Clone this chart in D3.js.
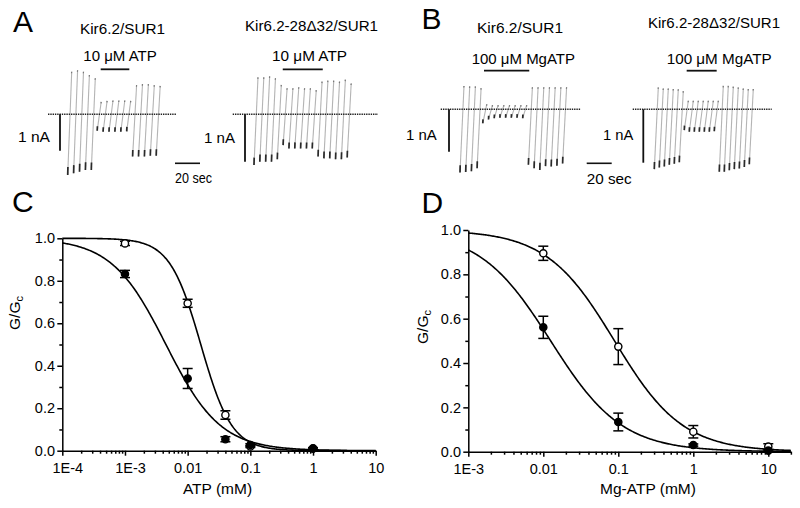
<!DOCTYPE html>
<html><head><meta charset="utf-8">
<script src="https://cdn.jsdelivr.net/npm/d3@7"></script>
<style>
body{margin:0;background:#fff;}
text{font-family:"Liberation Sans",Arial,sans-serif;fill:#000;font-weight:normal;}
</style></head>
<body>
<script>
// ---------------- DATA ----------------
// Panel A: 10 uM ATP, peak ramp currents per sweep (nA)
const aWtTop = [1.17,1.21,1.17,1.08,0.99, 0.34,0.37,0.38,0.38,0.38,0.37, 0.80,0.83,0.83,0.80,0.78];
const aWtBot = [-1.67,-1.62,-1.58,-1.53,-1.53, -0.45,-0.48,-0.48,-0.48,-0.48,-0.47, -1.16,-1.16,-1.16,-1.14,-1.14];
const aMutTop = [0.78,0.78,0.80,0.76,0.62, 0.55,0.55,0.57,0.55,0.55,0.51, 0.69,0.71,0.71,0.69,0.73,0.65];
const aMutBot = [-1.07,-1.00,-1.00,-1.00,-0.95, -0.65,-0.72,-0.72,-0.72,-0.72,-0.72, -0.89,-0.93,-0.93,-0.95,-0.95,-0.91];
// Panel B: 100 uM MgATP
const bWtTop = [0.55,0.54,0.54,0.50, 0.12,0.10,0.10,0.10,0.10,0.10,0.10,0.10, 0.52,0.52,0.52,0.52,0.52,0.52,0.52];
const bWtBot = [-1.49,-1.48,-1.46,-1.39, -0.33,-0.24,-0.21,-0.20,-0.20,-0.20,-0.20,-0.21, -1.31,-1.39,-1.43,-1.34,-1.35,-1.33,-1.28];
const bMutTop = [0.41,0.39,0.39,0.38,0.375,0.34, 0.16,0.16,0.16,0.16,0.16,0.16,0.16, 0.44,0.44,0.425,0.41,0.39,0.38,0.38];
const bMutBot = [-1.12,-1.09,-1.07,-1.04,-1.02,-0.99, -0.39,-0.42,-0.42,-0.42,-0.42,-0.42,-0.41, -1.17,-1.17,-1.14,-1.12,-1.11,-1.08,-1.03];
// sweep intervals (s) and drug application windows (s from first sweep)
const sweepInterval = [4.72, 4.66, 4.56, 4.0];
const drugOn = [26.4, 23.0, 19.2, 25.9];
const drugOff = [49.3, 55.0, 55.4, 49.9];
const rampDuration = 3.2; // s

// Panel C: ATP (mM)
const cConc = [0.001, 0.01, 0.04, 0.1, 1];
const cWtMean = [0.832, 0.34, 0.054, 0.027, 0.011];
const cWtErr  = [0.017, 0.047, 0.012, 0.006, 0.004];
const cMutMean = [0.976, 0.694, 0.168, 0.02, 0.01];
const cMutErr  = [0.010, 0.019, 0.020, 0.005, 0.004];
const cWtFit = [0.0045, 1.0];   // IC50 (mM), Hill
const cMutFit = [0.0162, 1.755];
const cXTicks = [1e-4, 1e-3, 0.01, 0.1, 1, 10];
const cXLabels = ["1E-4", "1E-3", "0.01", "0.1", "1", "10"];

// Panel D: Mg-ATP (mM)
const dConc = [0.01, 0.1, 1, 10];
const dWtMean = [0.561, 0.134, 0.03, 0.005];
const dWtErr  = [0.05, 0.04, 0.005, 0.003];
const dMutMean = [0.895, 0.474, 0.09, 0.023];
const dMutErr  = [0.032, 0.081, 0.028, 0.013];
const dWtFit = [0.01253, 0.915];
const dMutFit = [0.089, 0.956];
const dXTicks = [1e-3, 0.01, 0.1, 1, 10];
const dXLabels = ["1E-3", "0.01", "0.1", "1", "10"];

const yTicks = [0, 0.2, 0.4, 0.6, 0.8, 1.0];
const yMinor = [0.1, 0.3, 0.5, 0.7, 0.9];

// ---------------- DRAW ----------------
const svg = d3.select("body").append("svg").attr("width", 800).attr("height", 508);
const FONT = '"Liberation Sans",Arial,sans-serif';

function label(sel, txt, x, y, size, width, anchor) {
  const t = sel.append("text").attr("x", x).attr("y", y).attr("font-size", size).text(txt);
  if (anchor) t.attr("text-anchor", anchor);
  if (width) t.attr("textLength", width).attr("lengthAdjust", "spacingAndGlyphs");
  return t;
}

// panel letters
[["A", 13, 31.7], ["B", 421.5, 28.5], ["C", 12, 212], ["D", 421.5, 212.5]].forEach(([t, x, y]) =>
  svg.append("text").attr("x", x).attr("y", y).attr("font-size", 30).text(t));

const traceSpecs = [
  {top: aWtTop, bot: aWtBot, t0x: 67.7, baseY: 114.3, pxPerNA: 36.4, bx0: 48, bx1: 176, sbX: 60,
   title: "Kir6.2/SUR1", titleX: 80, titleY: 34, titleW: 85,
   drug: "10 \u03bcM ATP", drugX: 83.3, drugY: 60.5, drugBarY: 69.3, drugW: 73.5,
   nAX: 18, nAY: 141.7, nAW: 32},
  {top: aMutTop, bot: aMutBot, t0x: 254, baseY: 114.3, pxPerNA: 47.4, bx0: 232.7, bx1: 378, sbX: 245,
   title: "Kir6.2-28\u039432/SUR1", titleX: 245, titleY: 30.5, titleW: 133,
   drug: "10 \u03bcM ATP", drugX: 272, drugY: 60.5, drugBarY: 69.3, drugW: 75,
   nAX: 204, nAY: 143.3, nAW: 31},
  {top: bWtTop, bot: bWtBot, t0x: 460, baseY: 109.3, pxPerNA: 42.4, bx0: 440.7, bx1: 581, sbX: 449,
   title: "Kir6.2/SUR1", titleX: 477, titleY: 32.5, titleW: 86,
   drug: "100 \u03bcM MgATP", drugX: 471.7, drugY: 64, drugBarY: 70.7, drugW: 103.3,
   nAX: 406, nAY: 140, nAW: 30.7},
  {top: bMutTop, bot: bMutBot, t0x: 654.3, baseY: 109.3, pxPerNA: 53.4, bx0: 632.7, bx1: 771.7, sbX: 643.3,
   title: "Kir6.2-28\u039432/SUR1", titleX: 648, titleY: 27.8, titleW: 132,
   drug: "100 \u03bcM MgATP", drugX: 666.7, drugY: 64, drugBarY: 70.7, drugW: 105,
   nAX: 603, nAY: 140, nAW: 30.3}
];

traceSpecs.forEach((s, i) => {
  const g = svg.append("g");
  const x = d3.scaleLinear().domain([0, 20]).range([s.t0x, s.t0x + 25]);
  const y = d3.scaleLinear().domain([0, 1]).range([s.baseY, s.baseY - s.pxPerNA]);
  label(g, s.title, s.titleX, s.titleY, 14.5, s.titleW);
  label(g, s.drug, s.drugX, s.drugY, 14.5, s.drugW);
  g.append("line").attr("x1", x(drugOn[i])).attr("x2", x(drugOff[i]))
    .attr("y1", s.drugBarY).attr("y2", s.drugBarY).attr("stroke", "#111").attr("stroke-width", 1.8);
  // sweeps
  const sweeps = s.top.map((t, k) => ({t: k * sweepInterval[i], top: t, bot: s.bot[k]}));
  g.selectAll("line.sw").data(sweeps).join("line").attr("class", "sw")
    .attr("x1", d => x(d.t)).attr("y1", d => y(d.bot))
    .attr("x2", d => x(d.t + rampDuration)).attr("y2", d => y(d.top))
    .attr("stroke", "#b4b4b4").attr("stroke-width", 1.1);
  // dark ends (bottom)
  g.selectAll("line.swb").data(sweeps).join("line").attr("class", "swb")
    .attr("x1", d => x(d.t)).attr("y1", d => y(d.bot))
    .attr("x2", d => x(d.t + rampDuration * 0.05)).attr("y2", d => y(d.bot) - (y(d.bot) - y(d.top)) * 0.05 - 3)
    .attr("stroke", "#2a2a2a").attr("stroke-width", 1.7);
  // dark top tips
  g.selectAll("line.swt").data(sweeps).join("line").attr("class", "swt")
    .attr("x1", d => x(d.t + rampDuration)).attr("y1", d => y(d.top))
    .attr("x2", d => x(d.t + rampDuration) - 0.2).attr("y2", d => y(d.top) + 1.5)
    .attr("stroke", "#777").attr("stroke-width", 1.2);
  // baseline
  g.append("line").attr("x1", s.bx0).attr("x2", s.bx1).attr("y1", y(0)).attr("y2", y(0))
    .attr("stroke", "#222").attr("stroke-width", 1.5).attr("stroke-dasharray", "1.4,0.9");
  // 1 nA scale bar
  g.append("line").attr("x1", s.sbX).attr("x2", s.sbX).attr("y1", y(0)).attr("y2", y(-1))
    .attr("stroke", "#111").attr("stroke-width", 1.8);
  label(g, "1 nA", s.nAX, s.nAY, 15, s.nAW);
});
// 20 sec scale bars
[[175, 163.3, 183, 37], [586.7, 163.3, 184, 45]].forEach(([x0, yb, yt, w]) => {
  const x = d3.scaleLinear().domain([0, 20]).range([x0, x0 + 25]);
  svg.append("line").attr("x1", x(0)).attr("x2", x(20)).attr("y1", yb).attr("y2", yb)
    .attr("stroke", "#111").attr("stroke-width", 1.6);
  label(svg, "20 sec", x0, yt, 14.5, w);
});

// ---------- dose-response panels ----------
function hill(c, p) { return 1 / (1 + Math.pow(c / p[0], p[1])); }

function drPanel(cfg) {
  const g = svg.append("g");
  const x = d3.scaleLog().domain(cfg.xDomain).range([cfg.x0, cfg.x1]);
  const y = d3.scaleLinear().domain([0, 1]).range([cfg.y0, cfg.y1]);
  // minor x ticks
  const minor = [];
  const lo = Math.floor(Math.log10(cfg.xDomain[0])), hi = Math.ceil(Math.log10(cfg.xDomain[1]));
  for (let e = lo; e < hi; e++) for (let m = 2; m <= 9; m++) {
    const v = m * Math.pow(10, e);
    if (v >= cfg.xDomain[0] && v <= cfg.xDomain[1] * 1.0001) minor.push(v);
  }
  const xMin = g.append("g").attr("transform", `translate(0,${cfg.y0})`)
    .call(d3.axisBottom(x).tickValues(minor).tickSize(3).tickFormat("").tickSizeOuter(0));
  const xAx = g.append("g").attr("transform", `translate(0,${cfg.y0})`)
    .call(d3.axisBottom(x).tickValues(cfg.xTicks).tickSize(5).tickSizeOuter(0).tickPadding(7.5)
      .tickFormat((d, i) => cfg.xLabels[i]));
  const yMin = g.append("g").attr("transform", `translate(${cfg.x0},0)`)
    .call(d3.axisLeft(y).tickValues(yMinor).tickSize(3).tickFormat("").tickSizeOuter(0));
  const yAx = g.append("g").attr("transform", `translate(${cfg.x0},0)`)
    .call(d3.axisLeft(y).tickValues(yTicks).tickSize(5).tickSizeOuter(0).tickPadding(2.3)
      .tickFormat(d3.format(".1f")));
  [xMin, xAx, yMin, yAx].forEach(a => {
    a.selectAll("path,line").attr("stroke", "#000").attr("stroke-width", 1.5);
    a.selectAll("text").attr("font-size", 14.5).attr("font-family", FONT).attr("fill", "#000");
  });
  xAx.selectAll("text").attr("dx", (d, i) => cfg.xLabelDx[i]);
  xMin.select("path").remove(); yMin.select("path").remove();
  // axis titles
  g.append("text").attr("x", cfg.xTitleX).attr("y", 494).attr("text-anchor", "middle")
    .attr("font-size", 15.5).text(cfg.xTitle);
  const yt = g.append("text").attr("transform", `translate(${cfg.yTitleX},${cfg.yTitleY}) rotate(-90)`)
    .attr("text-anchor", "middle").attr("font-size", 15.5);
  yt.append("tspan").text("G/G");
  yt.append("tspan").attr("font-size", 11).attr("dy", 3).text("c");
  // fit curves
  const logs = d3.range(0, 301).map(k => Math.pow(10, Math.log10(cfg.xDomain[0]) +
    k / 300 * (Math.log10(cfg.xDomain[1]) - Math.log10(cfg.xDomain[0]))));
  [cfg.wtFit, cfg.mutFit].forEach(p => {
    g.append("path").datum(logs)
      .attr("d", d3.line().x(c => x(c)).y(c => y(hill(c, p))))
      .attr("fill", "none").attr("stroke", "#000").attr("stroke-width", 1.6);
  });
  // points with error bars
  const series = [
    {mean: cfg.mutMean, err: cfg.mutErr, fill: "#fff"},
    {mean: cfg.wtMean, err: cfg.wtErr, fill: "#000"}
  ];
  series.forEach(s => {
    const pts = cfg.conc.map((c, k) => ({c, m: s.mean[k], e: s.err[k]}));
    const eg = g.append("g").attr("stroke", "#000").attr("stroke-width", 1.5);
    eg.selectAll("line.v").data(pts).join("line").attr("class", "v")
      .attr("x1", d => x(d.c)).attr("x2", d => x(d.c))
      .attr("y1", d => y(d.m - d.e)).attr("y2", d => y(d.m + d.e));
    [-1, 1].forEach(sg => {
      eg.selectAll("line.c" + (sg > 0 ? "p" : "m")).data(pts).join("line").attr("class", "c" + (sg > 0 ? "p" : "m"))
        .attr("x1", d => x(d.c) - 5).attr("x2", d => x(d.c) + 5)
        .attr("y1", d => y(d.m + sg * d.e)).attr("y2", d => y(d.m + sg * d.e));
    });
    g.selectAll(null).data(pts).join("circle")
      .attr("cx", d => x(d.c)).attr("cy", d => y(d.m)).attr("r", 3.6)
      .attr("fill", s.fill).attr("stroke", "#000").attr("stroke-width", 1.4);
  });
}

drPanel({xDomain: [1e-4, 10], x0: 62.3, x1: 375.7, y0: 450.7, y1: 238.3,
  xTicks: cXTicks, xLabels: cXLabels, xLabelDx: [5, 5, 0, 0, 0, 0], xTitle: "ATP (mM)", xTitleX: 217.5,
  yTitleX: 20, yTitleY: 313,
  conc: cConc, wtMean: cWtMean, wtErr: cWtErr, mutMean: cMutMean, mutErr: cMutErr,
  wtFit: cWtFit, mutFit: cMutFit});
drPanel({xDomain: [1e-3, 20], x0: 468.3, x1: 468.3 + 75 * Math.log10(20000), y0: 451.7, y1: 230,
  xTicks: dXTicks, xLabels: dXLabels, xLabelDx: [0, 0, 0, 0, 0], xTitle: "Mg-ATP (mM)", xTitleX: 648,
  yTitleX: 428, yTitleY: 327,
  conc: dConc, wtMean: dWtMean, wtErr: dWtErr, mutMean: dMutMean, mutErr: dMutErr,
  wtFit: dWtFit, mutFit: dMutFit});
</script>
</body></html>
